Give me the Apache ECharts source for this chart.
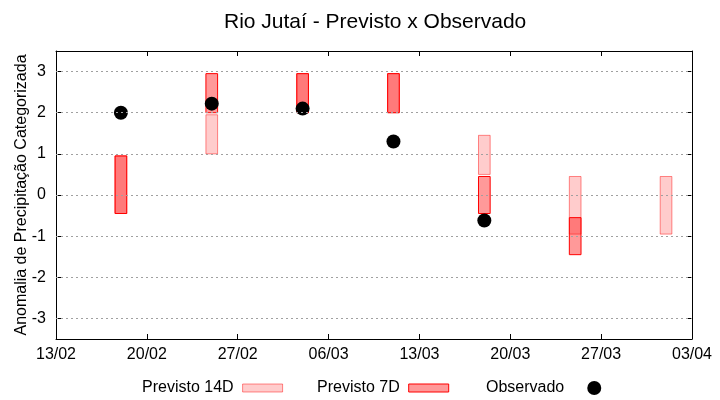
<!DOCTYPE html>
<html>
<head>
<meta charset="utf-8">
<script src="https://cdn.jsdelivr.net/npm/echarts@6/dist/echarts.min.js"></script>
<style>html,body{margin:0;padding:0;background:#fff}#c{width:720px;height:400px}</style>
</head>
<body>
<div id="c"></div>
<script>
// ---- data ----
const startDate = '2025-02-13';
const xTickLabels = ['13/02','20/02','27/02','06/03','13/03','20/03','27/03','03/04'];
const yTickValues = [-3,-2,-1,0,1,2,3];

const dates14 = ['2025-02-18','2025-02-25','2025-03-04','2025-03-11','2025-03-18','2025-03-25','2025-04-01'];
const low14   = [-0.45, 1.0, 2.0, 2.0, 0.5, -0.95, -0.95];
const high14  = [0.95, 1.95, 2.95, 2.95, 1.45, 0.45, 0.45];

const dates7 = ['2025-02-18','2025-02-25','2025-03-04','2025-03-11','2025-03-18','2025-03-25'];
const low7   = [-0.45, 2.0, 2.0, 2.0, -0.45, -1.45];
const high7  = [0.95, 2.95, 2.95, 2.95, 0.45, -0.55];

const datesObs = ['2025-02-18','2025-02-25','2025-03-04','2025-03-11','2025-03-18'];
const obsValues = [2.0, 2.22, 2.1, 1.3, -0.62];

// ---- helpers ----
const DAY = 86400000;
function dayOffset(d){ return Math.round((Date.parse(d) - Date.parse(startDate)) / DAY); }

const FONT = 'Liberation Sans';
const fill14 = 'rgba(255,0,0,0.2)', stroke14 = 'rgba(255,0,0,0.45)';
const fill7 = 'rgba(255,0,0,0.4)', stroke7 = '#ff0000';

function boxRenderer(fill, stroke){
  return function(params, api){
    const x = api.value(0), lo = api.value(1), hi = api.value(2);
    const p1 = api.coord([x - 0.45, hi]);
    const p2 = api.coord([x + 0.45, lo]);
    return {
      type: 'rect',
      shape: {x: p1[0], y: p1[1], width: p2[0] - p1[0], height: p2[1] - p1[1]},
      style: {fill: fill, stroke: stroke, lineWidth: 1}
    };
  };
}

const data14 = dates14.map((d,i)=>[dayOffset(d), low14[i], high14[i]]);
const data7 = dates7.map((d,i)=>[dayOffset(d), low7[i], high7[i]]);
const dataObs = datesObs.map((d,i)=>[dayOffset(d), obsValues[i]]);

const axisLineStyle = {show: true, onZero: false, lineStyle: {color: '#000', width: 1}};
const xMax = (xTickLabels.length - 1) * 7;

const chart = echarts.init(document.getElementById('c'), null, {renderer: 'canvas'});
chart.setOption({
  animation: false,
  backgroundColor: '#fff',
  textStyle: {fontFamily: FONT},
  title: {
    text: 'Rio Jutaí - Previsto x Observado',
    left: 219, top: 7,
    textStyle: {fontFamily: FONT, fontSize: 21, fontWeight: 'normal', color: '#000'}
  },
  grid: {left: 56, right: 28, top: 51, bottom: 61, containLabel: false},
  legend: [
    {left: 142, top: 380, padding: 0, align: 'right', itemWidth: 40, itemHeight: 8,
     textStyle: {fontFamily: FONT, fontSize: 16, color: '#000', padding: [0, 4, 0, 0]},
     data: [{name: 'Previsto 14D', icon: 'rect', itemStyle: {color: fill14, borderColor: stroke14, borderWidth: 1}}]},
    {left: 317, top: 380, padding: 0, align: 'right', itemWidth: 40, itemHeight: 8,
     textStyle: {fontFamily: FONT, fontSize: 16, color: '#000', padding: [0, 4, 0, 0]},
     data: [{name: 'Previsto 7D', icon: 'rect', itemStyle: {color: fill7, borderColor: stroke7, borderWidth: 1}}]},
    {left: 486, top: 380, padding: 0, align: 'right', itemWidth: 50, itemHeight: 14,
     textStyle: {fontFamily: FONT, fontSize: 16, color: '#000'},
     data: [{name: 'Observado', icon: 'circle', itemStyle: {color: '#000'}}]}
  ],
  xAxis: [
    {type: 'value', min: 0, max: xMax, interval: 7, position: 'bottom',
     axisLine: axisLineStyle,
     axisTick: {show: true, inside: true, length: 5, lineStyle: {color: '#000'}},
     axisLabel: {fontFamily: FONT, fontSize: 16, color: '#000', margin: 8,
       formatter: v => xTickLabels[Math.round(v / 7)] || ''},
     splitLine: {show: false}},
    {type: 'value', min: 0, max: xMax, interval: 7, position: 'top',
     axisLine: axisLineStyle,
     axisTick: {show: true, inside: true, length: 5, lineStyle: {color: '#000'}},
     axisLabel: {show: false}, splitLine: {show: false}}
  ],
  yAxis: [
    {type: 'value', min: -3.5, max: 3.5, position: 'left',
     name: 'Anomalia de Precipitação Categorizada', nameLocation: 'middle', nameGap: 26,
     nameMoveOverlap: false,
     nameTextStyle: {fontFamily: FONT, fontSize: 16, color: '#000'},
     axisLine: axisLineStyle,
     axisTick: {show: true, inside: true, length: 5, customValues: yTickValues, lineStyle: {color: '#000'}},
     axisLabel: {fontFamily: FONT, fontSize: 16, color: '#000', margin: 10, customValues: yTickValues},
     splitLine: {show: false}},
    {type: 'value', min: -3.5, max: 3.5, position: 'right',
     axisLine: axisLineStyle,
     axisTick: {show: true, inside: true, length: 5, customValues: yTickValues, lineStyle: {color: '#000'}},
     axisLabel: {show: false}, splitLine: {show: false}}
  ],
  series: [
    {name: 'Previsto 14D', type: 'custom', renderItem: boxRenderer(fill14, stroke14),
     encode: {x: 0, y: [1, 2]}, data: data14, z: 2,
     itemStyle: {color: fill14},
     markLine: {silent: true, symbol: 'none', label: {show: false}, animation: false,
       lineStyle: {color: '#a0a0a0', type: [2, 3], width: 1},
       data: yTickValues.map(v => ({yAxis: v}))}},
    {name: 'Previsto 7D', type: 'custom', renderItem: boxRenderer(fill7, stroke7),
     encode: {x: 0, y: [1, 2]}, data: data7, z: 3, itemStyle: {color: fill7}},
    {name: 'Observado', type: 'scatter', symbol: 'circle', symbolSize: 14,
     itemStyle: {color: '#000', opacity: 1}, data: dataObs, z: 4}
  ]
});
</script>
</body>
</html>
